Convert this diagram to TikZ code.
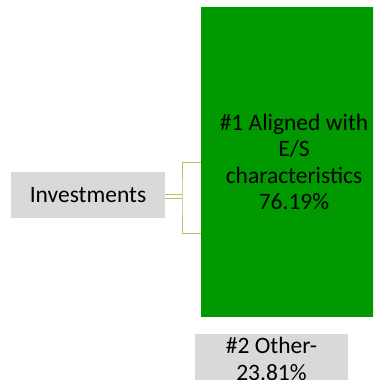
\documentclass[tikz,border=0pt]{standalone}
\usepackage{fontspec}
\setmainfont{Carlito}
\usepackage{tikz}
\usepackage{xcolor}
\definecolor{ColGreen}{RGB}{0,153,0}
\definecolor{ColGrey}{RGB}{217,217,217}
\definecolor{ColLine}{RGB}{196,188,104}
\tikzstyle{NodeBox}=[rectangle,inner sep=0pt,align=center,text=black,
font=\fontsize{23.5}{26.5}\selectfont]
\tikzstyle{EdgeBracket}=[ColLine,line width=1pt]
\begin{document}
\begin{tikzpicture}[x=1pt,y=-1pt]
        \useasboundingbox(0,0)rectangle(373,380);
        \clip(0,0)rectangle(373,380);
        \node[NodeBox,fill=ColGrey,minimum width=154pt,minimum height=46pt](inv)at(88,195){Investments};
        \node[NodeBox,fill=ColGreen,minimum width=186pt,minimum height=310pt](aligned)at(294,162)
            {\#1 Aligned with\\E/S\\characteristics\\76.19\%};
        \node[NodeBox,fill=ColGrey,minimum width=153pt,minimum height=50pt](other)at(271.5,359)
            {\#2 Other-\\23.81\%};
        \coordinate(mid)at(182,196);
        \draw[EdgeBracket,double=white,double distance=3pt](inv.east|-mid)--(mid);
        \draw[EdgeBracket](aligned.west|-0,162)-|(mid)|-(aligned.west|-0,233);
    \end{tikzpicture}
\end{document}
